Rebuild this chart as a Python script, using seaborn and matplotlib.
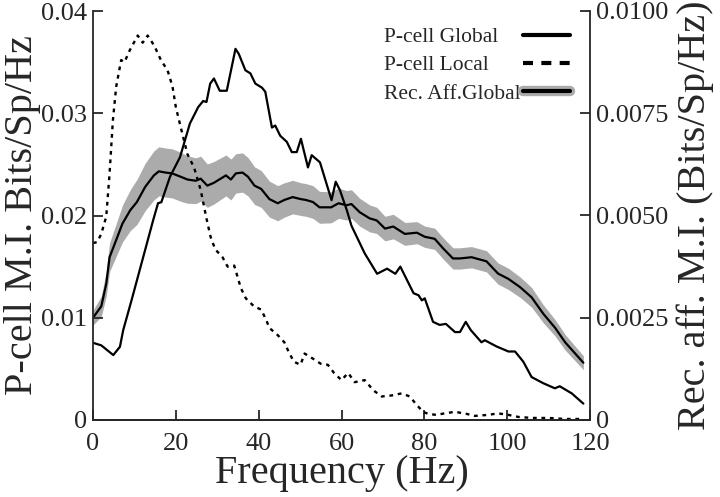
import numpy as np
import pandas as pd
import matplotlib
matplotlib.use("Agg")
import matplotlib.pyplot as plt
import matplotlib.patheffects as pe
from matplotlib.lines import Line2D
import seaborn as sns

# ---------------- data ----------------
pg_x = [0, 2.0, 4.9, 6.5, 7.3, 9.3, 11.7, 14.5, 15.7, 16.5, 18.6, 21.0, 23.4, 25.4, 26.6, 27.4, 28.3, 29.2,
        30.6, 32.3, 34.4, 35.2, 36.8, 38.0, 39.2, 40.8, 41.6, 43.2, 44.0, 45.2, 46.8, 48.0, 49.2, 50.2, 51.9,
        52.8, 54.8, 57.6, 58.6, 59.6, 61.3, 62.4, 65.6, 68.6, 71.0, 73.0, 74.2, 75.8, 77.4, 78.6, 79.4, 80.1,
        82.1, 83.7, 85.2, 87.4, 88.6, 90.0, 91.2, 93.8, 94.6, 97.4, 100.3, 101.9, 103.9, 105.9, 108.7, 111.5,
        112.7, 115.6, 118.4]
pg_y = [0.00755, 0.0073, 0.00635, 0.00716, 0.0088, 0.0117, 0.0153, 0.0195, 0.0212, 0.0213, 0.0238, 0.0257,
        0.0290, 0.0306, 0.0312, 0.0311, 0.0329, 0.0334, 0.0322, 0.0322, 0.0363, 0.0358, 0.0342, 0.0339,
        0.0329, 0.0325, 0.0321, 0.0286, 0.0288, 0.0278, 0.0272, 0.0262, 0.0262, 0.0275, 0.0247, 0.0259,
        0.0252, 0.0215, 0.0233, 0.0225, 0.0205, 0.0190, 0.0163, 0.0143, 0.0148, 0.0143, 0.0150, 0.0137,
        0.0124, 0.0122, 0.0117, 0.0119, 0.0096, 0.0093, 0.0094, 0.0086, 0.0086, 0.0096, 0.0088, 0.0076,
        0.0078, 0.0072, 0.0067, 0.0067, 0.0057, 0.0042, 0.0036, 0.0031, 0.0033, 0.0026, 0.0016]

pl_x = [0, 1, 2.0, 3.2, 4.0, 4.8, 5.6, 6.8, 7.6, 8.8, 10.8, 12.0, 13.2, 14.8, 16.4, 18.0, 19.2, 20.0, 21.2,
        22.8, 24.4, 26.0, 27.4, 28.4, 29.5, 31.3, 32.5, 34.1, 34.9, 35.7, 36.9, 38.9, 40.6, 41.8, 42.6, 44.6,
        46.2, 47.2, 48.5, 50.1, 51.1, 53.1, 55.0, 56.7, 58.2, 60.0, 61.6, 63.2, 65.6, 67.7, 69.7, 72.1, 74.5,
        76.5, 78.1, 79.7, 80.9, 82.9, 84.9, 87.4, 90.2, 92.2, 95.4, 97.8, 100.3, 102.7, 106, 110, 114, 118.5]
pl_y = [0.0173, 0.0174, 0.0182, 0.0199, 0.0241, 0.0293, 0.0326, 0.0352, 0.0350, 0.0361, 0.0376, 0.0369,
        0.0376, 0.0366, 0.0352, 0.0342, 0.0326, 0.0306, 0.0286, 0.0260, 0.0247, 0.0225, 0.0197, 0.0179,
        0.0167, 0.0159, 0.0150, 0.0151, 0.0140, 0.0129, 0.0119, 0.0111, 0.0108, 0.0098, 0.0090, 0.0083,
        0.0076, 0.0067, 0.0057, 0.0054, 0.0065, 0.0060, 0.0055, 0.0054, 0.0046, 0.0039, 0.0046, 0.0037,
        0.0039, 0.0029, 0.0023, 0.0024, 0.0026, 0.0023, 0.0015, 0.0008, 0.0006, 0.0005, 0.00065, 0.0008,
        0.0006, 0.0004, 0.0005, 0.00065, 0.0005, 0.0003, 0.0002, 0.0002, 0.0001, 0.0001]

ra_x = [0, 2.0, 3.2, 4.0, 5.6, 7.1, 9.0, 10.6, 12.6, 14.7, 15.9, 17.5, 19.1, 21.1, 22.8, 24.8, 26.0, 27.6,
        29.2, 32.1, 33.3, 34.5, 36.1, 37.4, 39.0, 40.6, 42.6, 44.6, 46.2, 48.2, 50.2, 51.4, 53.1, 54.7, 57.5,
        59.3, 61.2, 62.4, 64.4, 66.8, 68.5, 70.5, 72.5, 75.3, 78.2, 80.1, 82.5, 84.5, 86.9, 88.6, 91.4, 95.0,
        97.8, 100.3, 103.1, 105.9, 108.7, 111.6, 114.0, 118.4]
ra_y = [0.00250, 0.00278, 0.00333, 0.00398, 0.00440, 0.00480, 0.00513, 0.00533, 0.00570, 0.00598, 0.00608,
        0.00605, 0.00603, 0.00595, 0.00588, 0.00585, 0.00590, 0.00573, 0.00580, 0.00598, 0.00588, 0.00603,
        0.00605, 0.00595, 0.00573, 0.00565, 0.00540, 0.00530, 0.00538, 0.00545, 0.00540, 0.00538, 0.00533,
        0.00520, 0.00520, 0.00530, 0.00525, 0.00528, 0.00508, 0.00493, 0.00488, 0.00468, 0.00473, 0.00455,
        0.00458, 0.00448, 0.00443, 0.00420, 0.00395, 0.00395, 0.00398, 0.00388, 0.00358, 0.00345, 0.00325,
        0.00300, 0.00260, 0.00225, 0.00190, 0.00140]
ra_err = [0.00018, 0.00025, 0.0003, 0.00035, 0.0004, 0.00045, 0.0005, 0.00055, 0.00058, 0.0006,
          0.0006, 0.0006, 0.0006, 0.0006, 0.00058, 0.00056, 0.00055, 0.00053, 0.00052, 0.0005,
          0.0005, 0.00048, 0.00048, 0.00047, 0.00046, 0.00045, 0.00044, 0.00043, 0.00042, 0.00041,
          0.0004, 0.0004, 0.0004, 0.00039, 0.00038, 0.00037, 0.00036, 0.00035, 0.00034, 0.00033,
          0.00032, 0.0003, 0.0003, 0.00028, 0.00027, 0.00026, 0.00026, 0.00026, 0.00026, 0.00026,
          0.00026, 0.00026, 0.00026, 0.00026, 0.00025, 0.00024, 0.00022, 0.0002, 0.00019, 0.00017]

x_ticks = [0, 20, 40, 60, 80, 100, 120]
left_ticks = [0, 0.01, 0.02, 0.03, 0.04]
left_labels = ["0", "0.01", "0.02", "0.03", "0.04"]
right_ticks = [0, 0.0025, 0.005, 0.0075, 0.01]
right_labels = ["0", "0.0025", "0.0050", "0.0075", "0.0100"]
legend_labels = ["P-cell Global", "P-cell Local", "Rec. Aff.Global"]

# ---------------- style ----------------
sns.set_style("ticks")
plt.rcParams["font.family"] = ["Liberation Serif", "DejaVu Serif"]
plt.rcParams["xtick.direction"] = "in"
plt.rcParams["ytick.direction"] = "in"

fig = plt.figure(figsize=(7.2, 4.97), dpi=100)
ax = fig.add_axes([93 / 720, 1 - 420 / 497, (590 - 93) / 720, (420 - 11) / 497])
ax2 = ax.twinx()

BAND = "#ababab"
# Rec. aff. band + line on right axis
lo = [m - e for m, e in zip(ra_y, ra_err)]
hi = [m + e for m, e in zip(ra_y, ra_err)]
ax2.fill_between(ra_x, lo, hi, color=BAND, lw=0)
sns.lineplot(x=ra_x, y=ra_y, ax=ax2, color="black", lw=1.6, estimator=None, sort=False)

# P-cell lines on left axis (drawn above)
ax.set_zorder(ax2.get_zorder() + 1)
ax.patch.set_visible(False)
sns.lineplot(x=pg_x, y=pg_y, ax=ax, color="black", lw=1.6, estimator=None, sort=False)
sns.lineplot(x=pl_x, y=pl_y, ax=ax, color="black", lw=1.7, estimator=None, sort=False,
             linestyle=(0, (1.6, 2.0)))

ax.set_xlim(0, 120)
ax.set_ylim(0, 0.04)
ax2.set_ylim(0, 0.01)
ax.set_xticks(x_ticks)
ax.set_xticklabels([str(t) for t in x_ticks])
ax.set_yticks(left_ticks)
ax.set_yticklabels(left_labels)
ax2.set_yticks(right_ticks)
ax2.set_yticklabels(right_labels)

for a in (ax, ax2):
    a.spines["top"].set_visible(False)
    for s in ("left", "right", "bottom"):
        a.spines[s].set_linewidth(1.3)
    a.tick_params(axis="both", direction="in", length=7, width=1.3, labelsize=19, pad=4)
ax.tick_params(axis="x", pad=9)
ax2.spines["left"].set_visible(False)
ax.spines["right"].set_visible(False)

ax.set_xlabel("Frequency (Hz)", fontsize=29, labelpad=0)
ax.set_ylabel("P-cell M.I. Bits/Sp/Hz", fontsize=29, labelpad=0)
ax2.set_ylabel("Rec. aff. M.I. (Bits/Sp/Hz)", fontsize=29, labelpad=6)

# legend: texts left-aligned, line samples in a separate column on the right
invisible = [Line2D([], [], lw=0, alpha=0) for _ in legend_labels]
leg_text = ax.legend(invisible, legend_labels, loc="upper left",
                     bbox_to_anchor=(384 / 720, 1 - 27 / 497), bbox_transform=fig.transFigure,
                     frameon=False, fontsize=15.5, handlelength=0, handletextpad=0,
                     labelspacing=0.38, borderpad=0, borderaxespad=0)
ax.add_artist(leg_text)

handles = [
    Line2D([], [], color="black", lw=3),
    Line2D([], [], color="black", lw=3, linestyle=(0, (2.4, 2.0))),
    Line2D([], [], color="black", lw=3,
           path_effects=[pe.Stroke(linewidth=7.5, foreground=BAND), pe.Normal()]),
]
leg_lines = ax.legend(handles, ["", "", ""], loc="upper left",
                      bbox_to_anchor=(523 / 720, 1 - 27 / 497), bbox_transform=fig.transFigure,
                      frameon=False, fontsize=15.5, handlelength=2.2, handletextpad=0,
                      labelspacing=0.38, borderpad=0, borderaxespad=0)

fig.savefig("out.png", dpi=100)
